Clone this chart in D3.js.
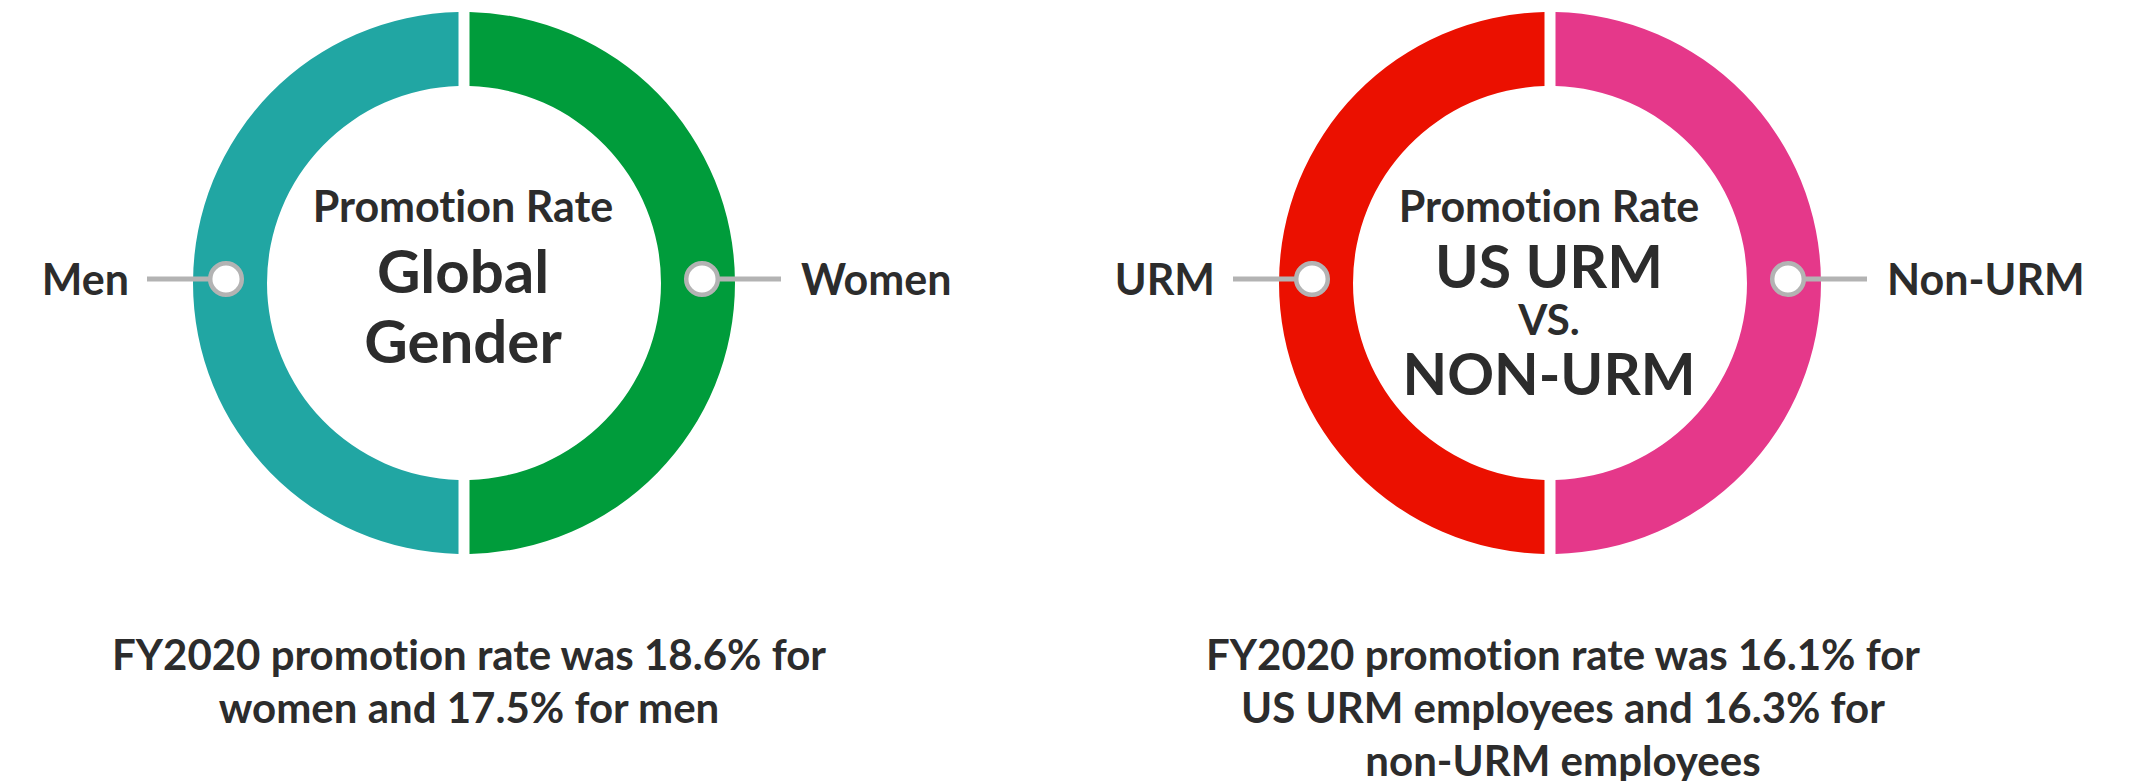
<!DOCTYPE html>
<html>
<head>
<meta charset="utf-8">
<script src="https://cdn.jsdelivr.net/npm/d3@7"></script>
<style>
  html, body { margin: 0; padding: 0; background: #fff; }
  svg { display: block; }
  text { font-family: Lato, "Open Sans", sans-serif; font-weight: 700; fill: #2c2c2c;
         font-variant-ligatures: none; font-feature-settings: "liga" 0, "clig" 0; }
</style>
</head>
<body>
<svg id="chart" width="2136" height="781"></svg>
<script>
// ---- data ----
const groupTitles = [["Global", "Gender"], ["US URM", "VS.", "NON-URM"]];
const subTitle = "Promotion Rate";
const segmentLabels = [["Men", "Women"], ["URM", "Non-URM"]];
const segmentShares = [[50, 50], [50, 50]];
const segmentColors = [["#21a6a3", "#009c3b"], ["#eb1000", "#e5388a"]];
const captions = [
  ["FY2020 promotion rate was 18.6% for", "women and 17.5% for men"],
  ["FY2020 promotion rate was 16.1% for", "US URM employees and 16.3% for", "non-URM employees"]
];

// ---- layout ----
const svg = d3.select("#chart");
const centers = [{x: 464, y: 283}, {x: 1550, y: 283}];
const outerR = 271, innerR = 197, markerR = 238;
const gap = 11;

const pie = d3.pie().sort(null).value(d => d).startAngle(Math.PI).endAngle(3 * Math.PI);
const arc = d3.arc().innerRadius(innerR).outerRadius(outerR)
  .padAngle(gap / outerR).padRadius(outerR);

// title line offsets (baseline relative to center) and sizes
const titleLayouts = [
  [{dy: -61, size: 43}, {dy: 10, size: 60}, {dy: 80, size: 60}],
  [{dy: -61, size: 43}, {dy: 5, size: 59}, {dy: 52, size: 42}, {dy: 112, size: 58}]
];

centers.forEach((c, gi) => {
  const g = svg.append("g").attr("transform", `translate(${c.x},${c.y})`);
  const slices = pie(segmentShares[gi]);

  g.selectAll("path.seg").data(slices).join("path")
    .attr("class", "seg")
    .attr("d", arc)
    .attr("fill", (d, i) => segmentColors[gi][i]);

  // markers, leader lines, labels
  slices.forEach((s, i) => {
    const a = (s.startAngle + s.endAngle) / 2;
    const mx = markerR * Math.sin(a);
    const my = -4;
    const dir = Math.sin(a) < 0 ? -1 : 1;
    g.append("line")
      .attr("x1", mx).attr("y1", my)
      .attr("x2", mx + dir * 79).attr("y2", my)
      .attr("stroke", "#b3b3b3").attr("stroke-width", 5);
    g.append("circle")
      .attr("cx", mx).attr("cy", my).attr("r", 15.8)
      .attr("fill", "#fff").attr("stroke", "#b3b3b3").attr("stroke-width", 4.5);
    g.append("text")
      .attr("x", mx + dir * (79 + (dir < 0 ? 18 : 20)))
      .attr("y", my + 16)
      .attr("text-anchor", dir < 0 ? "end" : "start")
      .attr("font-size", 43)
      .text(segmentLabels[gi][i]);
  });

  // center text
  const lines = [subTitle].concat(groupTitles[gi]);
  lines.forEach((t, li) => {
    g.append("text")
      .attr("x", -1)
      .attr("y", titleLayouts[gi][li].dy)
      .attr("text-anchor", "middle")
      .attr("font-size", titleLayouts[gi][li].size)
      .text(t);
  });

  // caption
  const capX = gi === 0 ? 5 : 13;
  captions[gi].forEach((t, li) => {
    g.append("text")
      .attr("x", capX)
      .attr("y", 670 - c.y + li * 53)
      .attr("text-anchor", "middle")
      .attr("font-size", 42)
      .text(t);
  });
});
</script>
</body>
</html>
